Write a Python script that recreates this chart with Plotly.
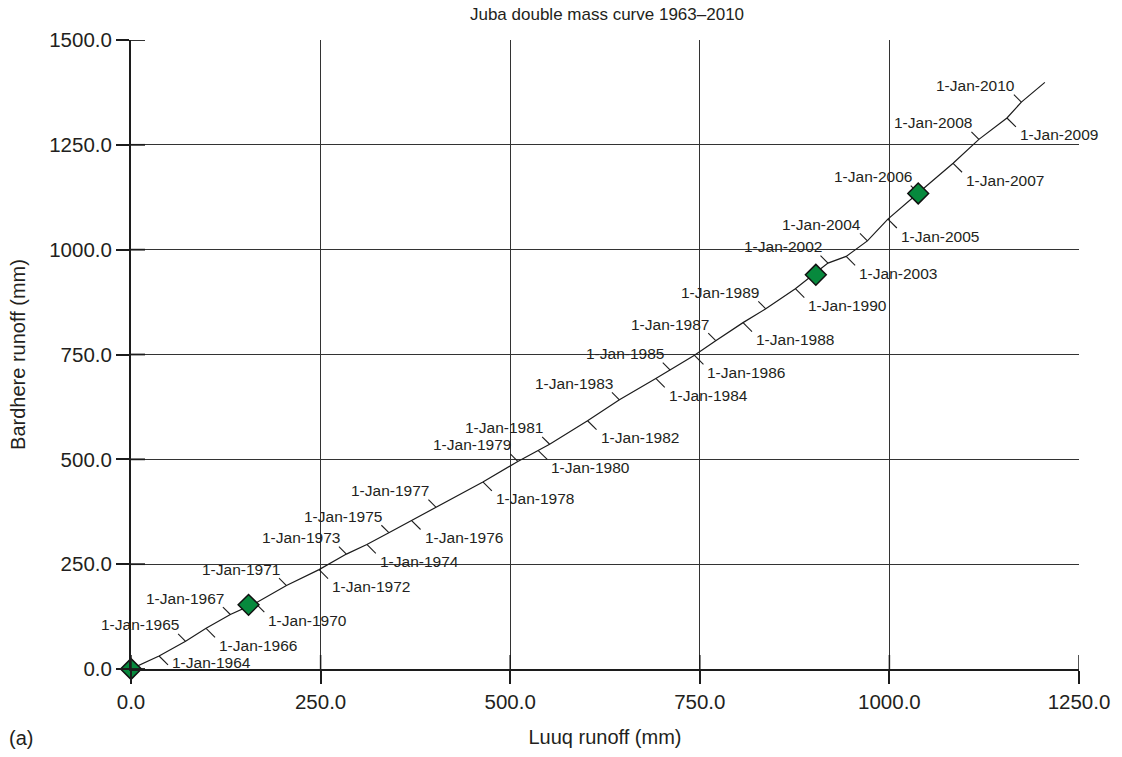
import plotly.graph_objects as go

# Cumulative runoff (mm) on 1 January of each recorded year
years = [1963, 1964, 1965, 1966, 1967, 1970, 1971, 1972, 1973, 1974, 1975,
         1976, 1977, 1978, 1979, 1980, 1981, 1982, 1983, 1984, 1985, 1986,
         1987, 1988, 1989, 1990, 2002, 2003, 2004, 2005, 2006, 2007, 2008,
         2009, 2010]
luuq_cum = [0, 37, 72, 99, 131, 164, 205, 248, 284, 311, 340,
            370, 402, 464, 510, 537, 552, 602, 644, 692, 711, 743,
            771, 807, 837, 876, 919, 943, 971, 998, 1038, 1084, 1118,
            1155, 1174]
bardhere_cum = [0, 31, 66, 97, 130, 157, 199, 237, 274, 297, 325,
                354, 386, 446, 495, 521, 536, 592, 642, 693, 713, 748,
                783, 826, 859, 907, 968, 984, 1021, 1073, 1135, 1206, 1263,
                1314, 1352]

# Last value of the record (end of 2010)
end_luuq = 1205
end_bardhere = 1399

# Break points highlighted with diamonds
break_luuq = [0, 155, 903, 1038]
break_bardhere = [0, 153, 940, 1134]

x_ticks = [0, 250, 500, 750, 1000, 1250]
y_ticks = [0, 250, 500, 750, 1000, 1250, 1500]

# ---- layout geometry -------------------------------------------------------
W, H = 1122, 757
M_L, M_R, M_T, M_B = 131, 39, 40, 85
PLOT_W = W - M_L - M_R
PLOT_H = H - M_T - M_B
X_RANGE = (0, 1250)
Y_RANGE = (0, 1500)
px_x = (X_RANGE[1] - X_RANGE[0]) / PLOT_W   # data units per pixel
px_y = (Y_RANGE[1] - Y_RANGE[0]) / PLOT_H

TXT = "#231f20"
LINE = "#1c1c1c"
FONT = "Arial, Liberation Sans, Helvetica, sans-serif"

curve_x = luuq_cum + [end_luuq]
curve_y = bardhere_cum + [end_bardhere]

fig = go.Figure()

# double mass curve
fig.add_trace(go.Scatter(
    x=curve_x, y=curve_y, mode="lines",
    line=dict(color=LINE, width=1.2),
    hoverinfo="skip", showlegend=False))

# year tick marks: alternating sides along the curve
TICK_DOWN = 9.0   # pixels, down-right side
TICK_UP = 7.5     # pixels, up-left side
tx, ty = [], []
annotations = []
label_shift_override = {1964: 2}
for i, (yr, lx, by) in enumerate(zip(years[1:], luuq_cum[1:], bardhere_cum[1:])):
    below = (i % 2 == 0)
    if below:
        ex = lx + TICK_DOWN * px_x
        ey = by - TICK_DOWN * px_y
    else:
        ex = lx - TICK_UP * px_x
        ey = by + TICK_UP * px_y
    tx += [lx, ex, None]
    ty += [by, ey, None]
    annotations.append(dict(
        x=ex, y=ey, xref="x", yref="y", text=f"1-Jan-{yr}", showarrow=False,
        xanchor="left" if below else "right", yanchor="middle",
        xshift=2 if below else 3,
        yshift=label_shift_override.get(yr, -8 if below else 9),
        font=dict(family=FONT, size=15.5, color=TXT)))

fig.add_trace(go.Scatter(
    x=tx, y=ty, mode="lines",
    line=dict(color=LINE, width=1.1),
    hoverinfo="skip", showlegend=False))

# break-point diamonds
fig.add_trace(go.Scatter(
    x=break_luuq, y=break_bardhere, mode="markers",
    marker=dict(symbol="diamond", size=16, color="#07893d",
                line=dict(color="#111111", width=1.5)),
    cliponaxis=False, hoverinfo="skip", showlegend=False))

# panel tag
annotations.append(dict(
    x=(6 - M_L) / PLOT_W, y=-(741 - (H - M_B)) / PLOT_H,
    xref="paper", yref="paper", text="(a)", showarrow=False,
    xanchor="left", yanchor="middle",
    font=dict(family=FONT, size=20, color=TXT)))

# short inner tick segments on both axes
shapes = []
for v in y_ticks:
    shapes.append(dict(type="line", xref="x", yref="y", xsizemode="pixel",
                       xanchor=0, x0=0, x1=14, y0=v, y1=v,
                       line=dict(color=LINE, width=1.8)))
for v in x_ticks:
    shapes.append(dict(type="line", xref="x", yref="y", ysizemode="pixel",
                       yanchor=0, y0=0, y1=14, x0=v, x1=v,
                       line=dict(color=LINE, width=1.5)))

axis_common = dict(
    showgrid=True, gridcolor="#333333", gridwidth=1.2,
    showline=True, linecolor=LINE, linewidth=2,
    ticks="outside", ticklen=13, tickwidth=1.5, tickcolor=LINE,
    tickformat=".1f", zeroline=False,
    tickfont=dict(family=FONT, size=20.5, color=TXT),
)

fig.update_layout(
    width=W, height=H,
    margin=dict(l=M_L, r=M_R, t=M_T, b=M_B),
    paper_bgcolor="white", plot_bgcolor="white",
    title=dict(text="Juba double mass curve 1963\u20132010",
               x=(M_L + PLOT_W / 2) / W, xanchor="center",
               y=1 - 14 / H, yanchor="middle",
               font=dict(family=FONT, size=17, color=TXT)),
    xaxis=dict(range=list(X_RANGE), tickvals=x_ticks,
               title=dict(text="Luuq runoff (mm)", standoff=18,
                          font=dict(family=FONT, size=20, color=TXT)),
               **axis_common),
    yaxis=dict(range=list(Y_RANGE), tickvals=y_ticks,
               title=dict(text="Bardhere runoff (mm)", standoff=18,
                          font=dict(family=FONT, size=20, color=TXT)),
               **axis_common),
    annotations=annotations,
    shapes=shapes,
    showlegend=False,
)

fig.write_html("out.html")
